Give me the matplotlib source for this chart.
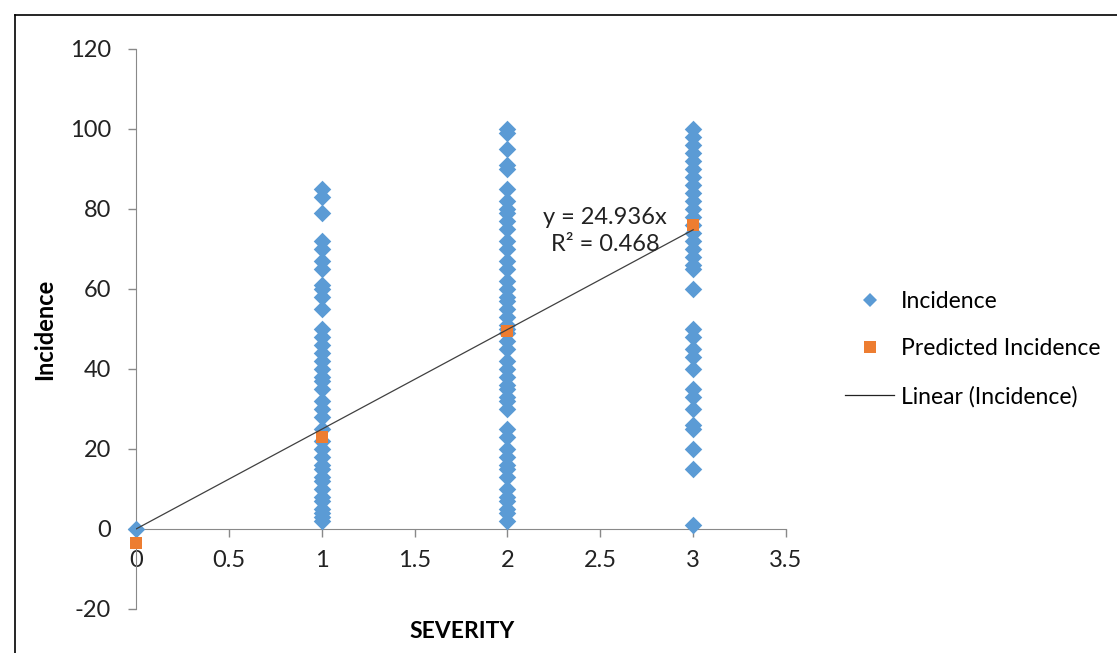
import matplotlib
matplotlib.use("Agg")
import matplotlib.pyplot as plt
from matplotlib.lines import Line2D

plt.rcParams['font.family'] = ['Lato', 'DejaVu Sans']
plt.rcParams['axes.unicode_minus'] = False

sev0 = [0]
sev1 = [85, 83, 79, 72, 70, 67, 65, 61, 60, 58, 55, 50, 48, 46, 44, 42, 40, 38, 37,
        35, 32, 30, 28, 25, 22, 20, 18, 16, 15, 13, 12, 10, 8, 7, 5, 4, 3, 2]
sev2 = [100, 99, 95, 91, 90, 85, 82, 80, 79, 77, 75, 72, 70, 67, 65, 62, 60, 58, 57,
        55, 53, 51, 50, 49, 47, 45, 42, 40, 38, 36, 35, 33, 32, 30, 25, 23, 20, 18,
        16, 15, 13, 10, 8, 7, 5, 4, 2]
sev3 = [100, 98, 96, 94, 92, 90, 88, 86, 84, 82, 80, 78, 76, 74, 72, 70, 68, 66, 65,
        60, 50, 48, 45, 43, 40, 35, 33, 30, 26, 25, 20, 15, 1]

pred_x = [0, 1, 2, 3]
pred_y = [-3.5, 23, 49.5, 76]

slope = 24.936
r2 = 0.468
trend_x = [0, 3]

xticks = [0, 0.5, 1, 1.5, 2, 2.5, 3, 3.5]
yticks = [-20, 0, 20, 40, 60, 80, 100, 120]

blue = '#5B9BD5'
orange = '#ED7D31'
axis_gray = '#898989'

fig = plt.figure(figsize=(11.17, 6.53), dpi=100)
ax = fig.add_axes([0.1218, 0.0674, 0.5819, 0.8576])

# scatter of observations
xs, ys = [], []
for s, vals in zip([0, 1, 2, 3], [sev0, sev1, sev2, sev3]):
    xs += [s] * len(vals)
    ys += vals
ax.scatter(xs, ys, marker='D', s=80, color=blue, linewidths=0, zorder=3, clip_on=False)
ax.scatter(pred_x, pred_y, marker='s', s=85, color=orange, linewidths=0, zorder=4,
           clip_on=False)
ax.plot(trend_x, [slope * v for v in trend_x], color='#404040', lw=0.9, zorder=5)

ax.text(2.525, 74.5, f"y = {slope}x\nR² = {r2}", ha='center', va='center',
        fontsize=17, linespacing=1.3, color='#222222', zorder=6)

ax.set_xlim(0, 3.5)
ax.set_ylim(-20, 120)
ax.set_xticks(xticks)
ax.set_xticklabels(['0', '0.5', '1', '1.5', '2', '2.5', '3', '3.5'])
ax.set_yticks(yticks)
ax.tick_params(axis='both', labelsize=17, colors=axis_gray, labelcolor='#222222',
               length=6, width=1)
ax.tick_params(axis='x', pad=9)
ax.tick_params(axis='y', pad=12)

ax.spines['top'].set_visible(False)
ax.spines['right'].set_visible(False)
ax.spines['bottom'].set_position(('data', 0))
ax.spines['left'].set_color(axis_gray)
ax.spines['bottom'].set_color(axis_gray)

ax.set_ylabel('Incidence', fontsize=17, fontweight='bold', labelpad=10)
fig.text(0.414, 0.033, 'SEVERITY', fontsize=16.5, fontweight='bold', ha='center',
         va='center')

handles = [
    Line2D([], [], marker='D', ls='none', color=blue, markersize=7, markeredgewidth=0),
    Line2D([], [], marker='s', ls='none', color=orange, markersize=8, markeredgewidth=0),
    Line2D([], [], color='#222222', lw=0.9),
]
leg = fig.legend(handles, ['Incidence', 'Predicted Incidence', 'Linear (Incidence)'],
                 loc='center left', bbox_to_anchor=(0.7565, 0.4655), frameon=False,
                 fontsize=16.5, labelspacing=1.15, handlelength=2.15, handletextpad=0.3,
                 borderpad=0, borderaxespad=0)

# outer chart frame (top and left edges visible)
fig.add_artist(Line2D([0.0134, 1.0], [0.977, 0.977], transform=fig.transFigure,
                      color='black', lw=1.2))
fig.add_artist(Line2D([0.0134, 0.0134], [0.0, 0.977], transform=fig.transFigure,
                      color='black', lw=1.2))

fig.savefig('out.png', dpi=100)
